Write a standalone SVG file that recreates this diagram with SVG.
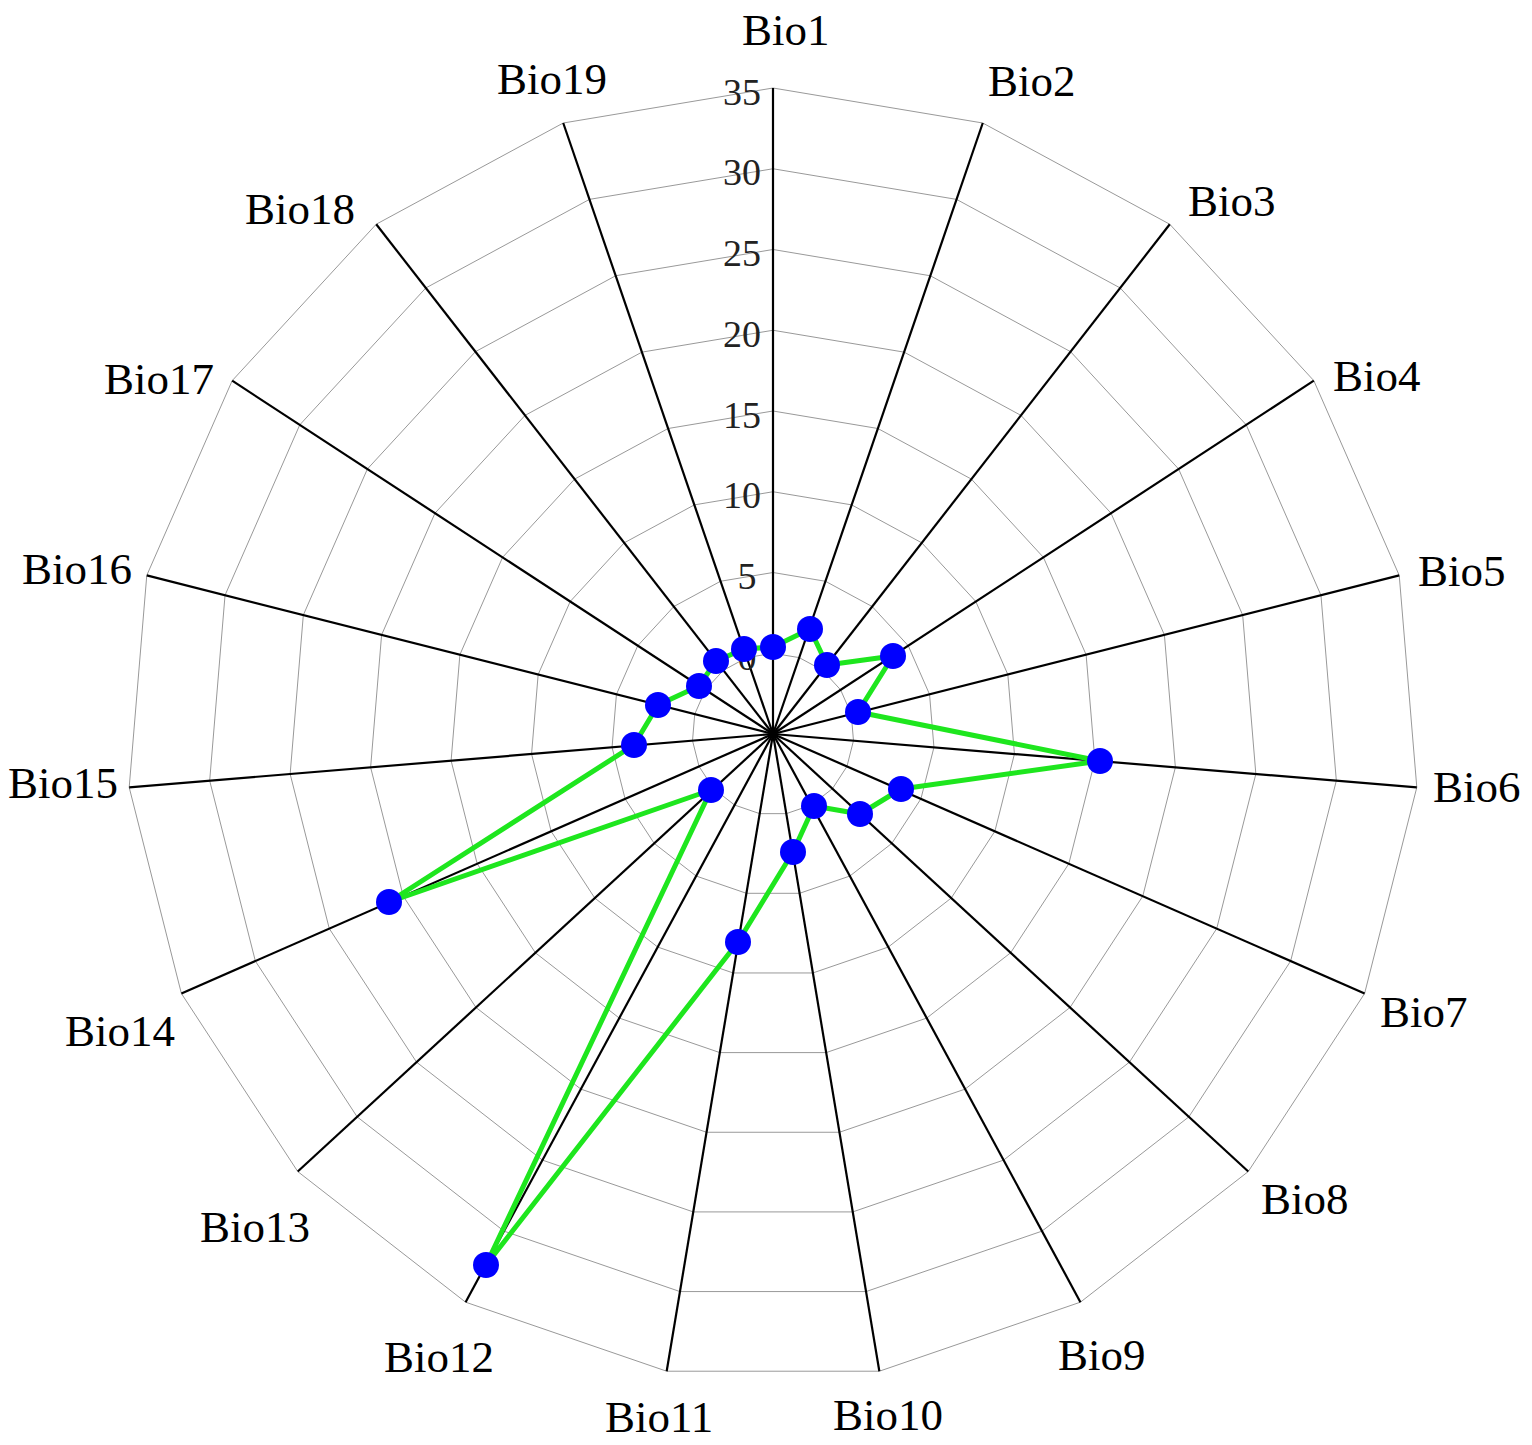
<svg xmlns="http://www.w3.org/2000/svg" width="1532" height="1445" viewBox="0 0 1532 1445">
<style>
.ring{fill:none;stroke:#999;stroke-width:1;vector-effect:non-scaling-stroke}
.ax{stroke:#000;stroke-width:2.2;vector-effect:non-scaling-stroke}
.lbl{font-family:"Liberation Serif",serif;font-size:45px;fill:#000}
.tick{font-family:"Liberation Serif",serif;font-size:38px;fill:#222;text-anchor:middle}
.pt{fill:#0000ff}
</style>
<defs>
<polygon id="ring" class="ring" points="0,-100 32.47,-94.58 61.42,-78.91 83.72,-54.69 96.94,-24.55 99.66,8.26 91.58,40.17 73.57,67.73 47.59,87.95 16.46,98.64 -16.46,98.64 -47.59,87.95 -73.57,67.73 -91.58,40.17 -99.66,8.26 -96.94,-24.55 -83.72,-54.69 -61.42,-78.91 -32.47,-94.58"/>
</defs>
<rect width="1532" height="1445" fill="#fff"/>
<g id="grid">
<use href="#ring" transform="translate(773,734) scale(0.8075)"/>
<use href="#ring" transform="translate(773,734) scale(1.615)"/>
<use href="#ring" transform="translate(773,734) scale(2.4225)"/>
<use href="#ring" transform="translate(773,734) scale(3.23)"/>
<use href="#ring" transform="translate(773,734) scale(4.0375)"/>
<use href="#ring" transform="translate(773,734) scale(4.845)"/>
<use href="#ring" transform="translate(773,734) scale(5.6525)"/>
<use href="#ring" transform="translate(773,734) scale(6.46)"/>
</g>
<g id="axes" transform="translate(773,734) scale(6.46)">
<line class="ax" x1="0" y1="0" x2="0" y2="-100"/>
<line class="ax" x1="0" y1="0" x2="32.47" y2="-94.58"/>
<line class="ax" x1="0" y1="0" x2="61.42" y2="-78.91"/>
<line class="ax" x1="0" y1="0" x2="83.72" y2="-54.69"/>
<line class="ax" x1="0" y1="0" x2="96.94" y2="-24.55"/>
<line class="ax" x1="0" y1="0" x2="99.66" y2="8.26"/>
<line class="ax" x1="0" y1="0" x2="91.58" y2="40.17"/>
<line class="ax" x1="0" y1="0" x2="73.57" y2="67.73"/>
<line class="ax" x1="0" y1="0" x2="47.59" y2="87.95"/>
<line class="ax" x1="0" y1="0" x2="16.46" y2="98.64"/>
<line class="ax" x1="0" y1="0" x2="-16.46" y2="98.64"/>
<line class="ax" x1="0" y1="0" x2="-47.59" y2="87.95"/>
<line class="ax" x1="0" y1="0" x2="-73.57" y2="67.73"/>
<line class="ax" x1="0" y1="0" x2="-91.58" y2="40.17"/>
<line class="ax" x1="0" y1="0" x2="-99.66" y2="8.26"/>
<line class="ax" x1="0" y1="0" x2="-96.94" y2="-24.55"/>
<line class="ax" x1="0" y1="0" x2="-83.72" y2="-54.69"/>
<line class="ax" x1="0" y1="0" x2="-61.42" y2="-78.91"/>
<line class="ax" x1="0" y1="0" x2="-32.47" y2="-94.58"/>
</g>
<g id="ticks">
<text class="tick" x="742" y="105">35</text>
<text class="tick" x="742" y="185">30</text>
<text class="tick" x="742" y="266">25</text>
<text class="tick" x="742" y="347">20</text>
<text class="tick" x="742" y="428">15</text>
<text class="tick" x="742" y="508">10</text>
<text class="tick" x="747" y="589">5</text>
<text class="tick" x="747" y="670">0</text>
</g>
<g id="labels" class="lbl">
<text x="742" y="45">Bio1</text>
<text x="988" y="96">Bio2</text>
<text x="1188" y="216">Bio3</text>
<text x="1333" y="391">Bio4</text>
<text x="1418" y="586">Bio5</text>
<text x="1433" y="802">Bio6</text>
<text x="1380" y="1027">Bio7</text>
<text x="1261" y="1214">Bio8</text>
<text x="1058" y="1370">Bio9</text>
<text x="833" y="1430">Bio10</text>
<text x="605" y="1432">Bio11</text>
<text x="384" y="1372">Bio12</text>
<text x="200" y="1242">Bio13</text>
<text x="65" y="1046">Bio14</text>
<text x="8" y="798">Bio15</text>
<text x="22" y="584">Bio16</text>
<text x="104" y="394">Bio17</text>
<text x="245" y="224">Bio18</text>
<text x="497" y="94">Bio19</text>
</g>
<g id="series">
<polygon fill="none" stroke="#1ee61e" stroke-width="5" stroke-linejoin="round" points="773,647 810,629 827,665 893,656 858,712 1100,761 901,789 860,814 814,806 793,852 738,942 486,1265 711,790 389,902 634,745 658,705 699,686 716,661 744,649"/>
<circle class="pt" cx="773" cy="647" r="13"/><circle class="pt" cx="810" cy="629" r="13"/><circle class="pt" cx="827" cy="665" r="13"/><circle class="pt" cx="893" cy="656" r="13"/><circle class="pt" cx="858" cy="712" r="13"/><circle class="pt" cx="1100" cy="761" r="13"/><circle class="pt" cx="901" cy="789" r="13"/><circle class="pt" cx="860" cy="814" r="13"/><circle class="pt" cx="814" cy="806" r="13"/><circle class="pt" cx="793" cy="852" r="13"/><circle class="pt" cx="738" cy="942" r="13"/><circle class="pt" cx="486" cy="1265" r="13"/><circle class="pt" cx="711" cy="790" r="13"/><circle class="pt" cx="389" cy="902" r="13"/><circle class="pt" cx="634" cy="745" r="13"/><circle class="pt" cx="658" cy="705" r="13"/><circle class="pt" cx="699" cy="686" r="13"/><circle class="pt" cx="716" cy="661" r="13"/><circle class="pt" cx="744" cy="649" r="13"/>
</g>
</svg>
